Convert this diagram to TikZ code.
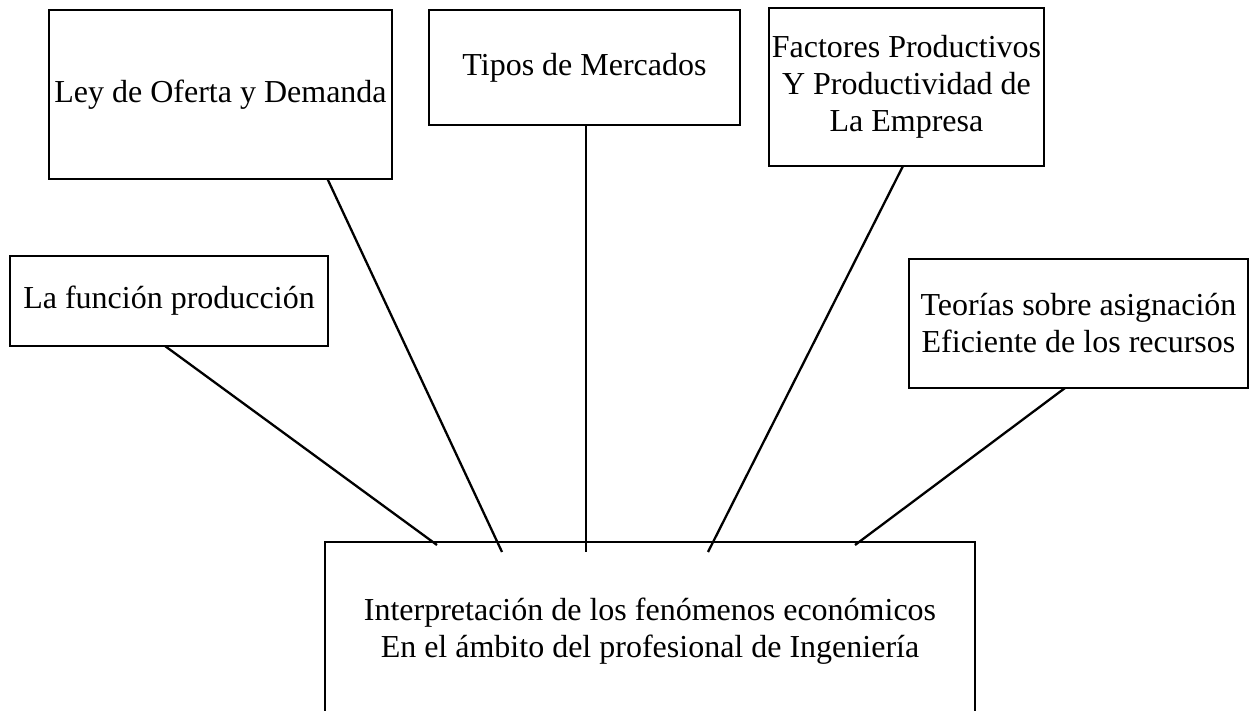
\documentclass[tikz,border=0pt]{standalone}
\usepackage{fontspec}
\setmainfont{Liberation Serif}
\usetikzlibrary{calc}
\tikzset{
  caja/.style={draw, line width=2.7pt, inner sep=0pt, outer sep=0pt, align=center,
    font=\fontsize{32}{37}\selectfont},
  linea/.style={line width=2.3pt}
}
\newcommand{\caja}[6]{ \node[caja, minimum width={(#4-#2)*1pt}, minimum height={(#5-#3)*1pt}] (#1) at ({(#2+#4)/2},{(#3+#5)/2}) {#6};}

\begin{document}
\begin{tikzpicture}[x=1pt, y=-1pt]
        \useasboundingbox (0,0) rectangle (1253,711);
        \clip (0,0) rectangle (1253,711);
        % temas
        \caja{funcion}{10}{256}{328}{346}{La función producción}
        \caja{ley}{49}{10}{392}{179}{Ley de Oferta y Demanda}
        \caja{tipos}{429}{10}{740}{125}{Tipos de Mercados}
        \caja{factores}{769}{8}{1044}{166}{Factores Productivos\\Y Productividad de\\La Empresa}
        \caja{teorias}{909}{259}{1248}{388}{Teorías sobre asignación\\Eficiente de los recursos}
        % centro
        \caja{interp}{325}{542}{975}{720}{Interpretación de los fenómenos económicos\\En el ámbito del profesional de Ingeniería}
        % lineas
        \draw[linea] ([xshift=-4pt]funcion.south) -- ([xshift=-213pt,yshift=-3pt]interp.north);
        \draw[linea] ([xshift=107pt]ley.south) -- ([xshift=-148pt,yshift=-10pt]interp.north);
        \draw[linea] ([xshift=1.5pt]tipos.south) -- ([xshift=-64pt,yshift=-10pt]interp.north);
        \draw[linea] ([xshift=-3.5pt]factores.south) -- ([xshift=58pt,yshift=-10pt]interp.north);
        \draw[linea] ([xshift=-13.5pt]teorias.south) -- ([xshift=205pt,yshift=-3pt]interp.north);
\end{tikzpicture}
\end{document}
